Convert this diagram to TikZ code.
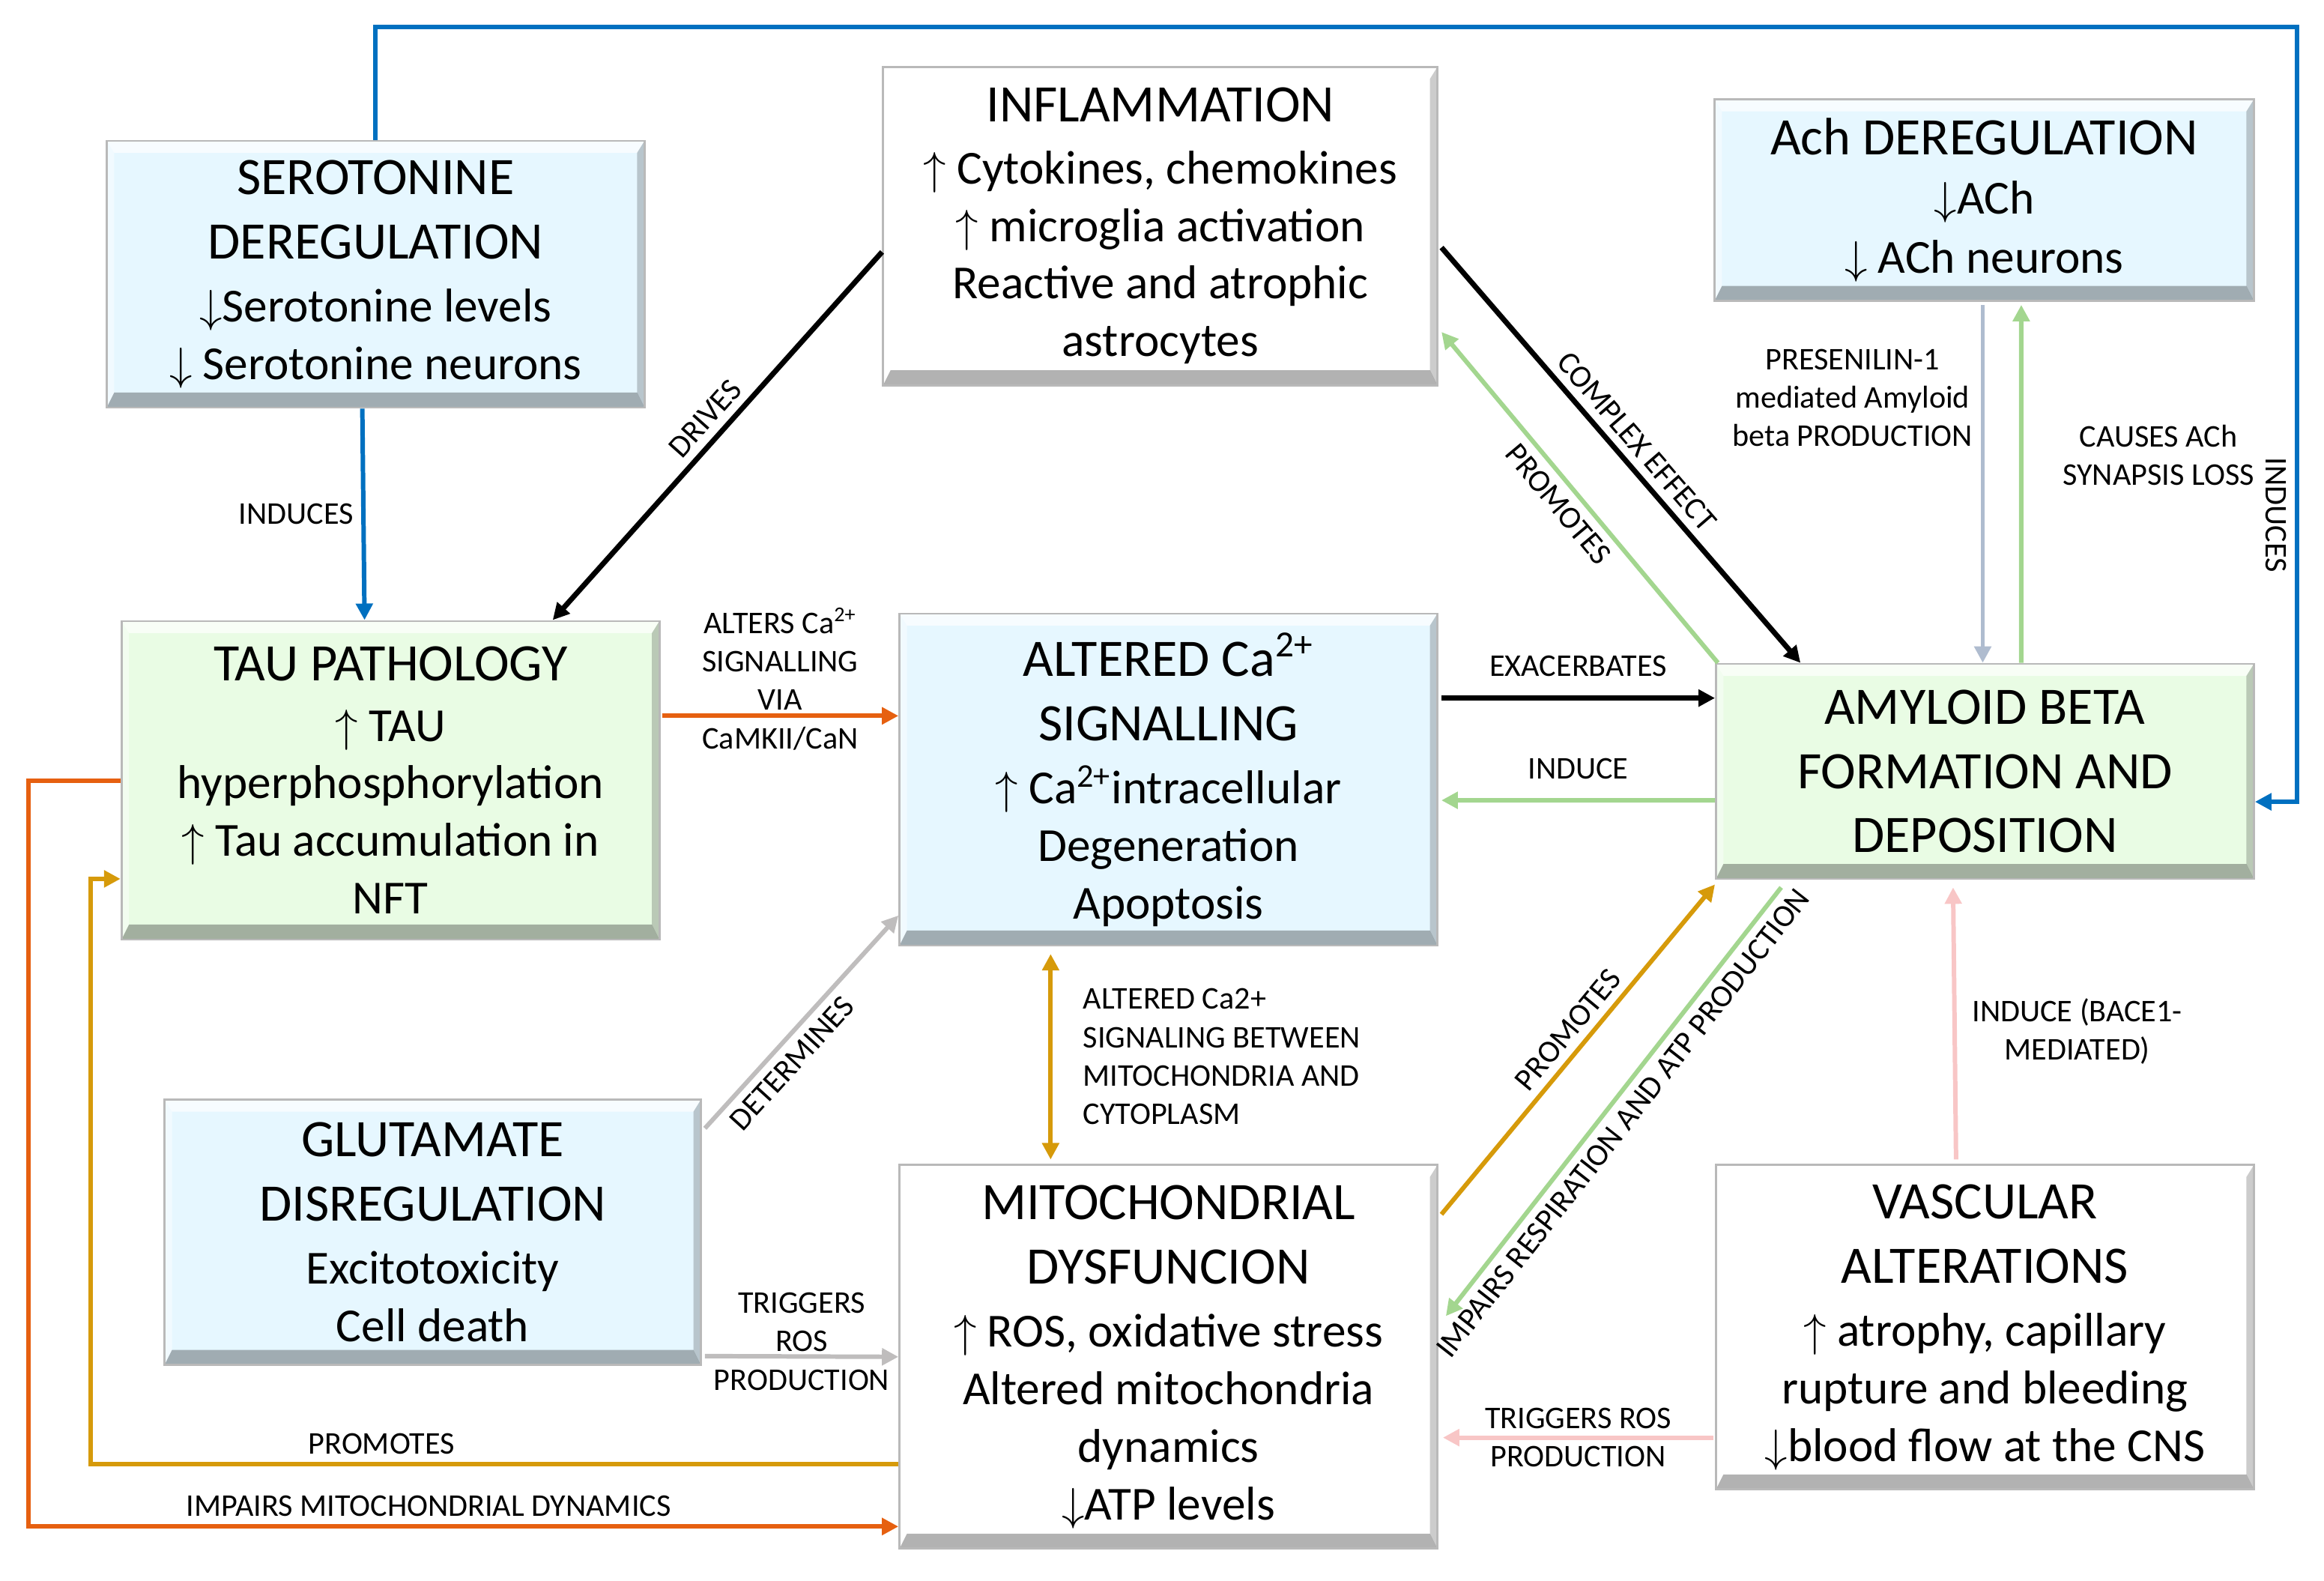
\documentclass[tikz,border=0pt]{standalone}
\usepackage{fontspec}
\setmainfont{Carlito}
\usetikzlibrary{arrows.meta,calc}

\definecolor{boxblue}{HTML}{E6F7FF}
\definecolor{boxgreen}{HTML}{E9FCE4}
\definecolor{lineblue}{HTML}{0070C0}
\definecolor{lineorange}{HTML}{E66010}
\definecolor{linegold}{HTML}{D69A0A}
\definecolor{linegreen}{HTML}{A3D68F}
\definecolor{linegrayblue}{HTML}{AFBCCF}
\definecolor{linegray}{HTML}{BFBDBD}
\definecolor{linepink}{HTML}{F8C6C6}

\newcommand{\ttl}{\fontsize{20}{24.2}\selectfont}
\newcommand{\bdy}{\fontsize{18}{21.9}\selectfont}
\newcommand{\upa}{$\uparrow$}
\newcommand{\dna}{$\downarrow$}

\begin{document}
\begin{tikzpicture}[x=0.1978mm, y=-0.1978mm,
		box_style/.style={draw=gray!55, line width=0.8pt, align=center, inner sep=0pt, font=\bdy, bevel},
		bevel/.style={path picture={
			\fill[white, opacity=.7] (path picture bounding box.north west) -- (path picture bounding box.north east)
				-- ([shift={(-1mm,-1.6mm)}]path picture bounding box.north east) -- ([shift={(1mm,-1.6mm)}]path picture bounding box.north west) -- cycle;
			\fill[white, opacity=.45] (path picture bounding box.north west) -- ([shift={(1mm,-1.6mm)}]path picture bounding box.north west)
				-- ([shift={(1mm,2mm)}]path picture bounding box.south west) -- (path picture bounding box.south west) -- cycle;
			\fill[black, opacity=.3] (path picture bounding box.south west) -- (path picture bounding box.south east)
				-- ([shift={(-1mm,2mm)}]path picture bounding box.south east) -- ([shift={(1mm,2mm)}]path picture bounding box.south west) -- cycle;
			\fill[black, opacity=.2] (path picture bounding box.south east) -- (path picture bounding box.north east)
				-- ([shift={(-1mm,-1.6mm)}]path picture bounding box.north east) -- ([shift={(-1mm,2mm)}]path picture bounding box.south east) -- cycle;}},
		label_style/.style={font=\fontsize{12}{14.6}\selectfont, text=black, inner sep=3pt, align=center},
		edge_style/.style={line width=1.7pt, -{Triangle[length=2.2mm,width=2.2mm]}}]

		\useasboundingbox (0,0) rectangle (1568.3,1066.7);

		\node[box_style, fill=boxblue, minimum width=71.8mm, minimum height=35.6mm] (sero) at (253.5,185)
			{\ttl SEROTONINE\\[2.5pt]\ttl DEREGULATION\\[2pt]\bdy\dna Serotonine levels\\\dna\ Serotonine neurons};
		\node[box_style, fill=white, minimum width=74mm, minimum height=42.5mm] (infl) at (783,152.5)
			{\ttl INFLAMMATION\\[1.5pt]\bdy\upa\ Cytokines, chemokines\\\upa\ microglia activation\\Reactive and atrophic\\astrocytes};
		\node[box_style, fill=boxblue, minimum width=72mm, minimum height=26.9mm] (ach) at (1339,135)
			{\ttl Ach DEREGULATION\\[0.5pt]\bdy\dna ACh\\[0.5pt]\dna\ ACh neurons};
		\node[box_style, fill=boxgreen, minimum width=71.8mm, minimum height=42.5mm] (tau) at (263.5,526.5)
			{\ttl TAU PATHOLOGY\\[1pt]\bdy\upa\ TAU\\hyperphosphorylation\\\upa\ Tau accumulation in\\NFT};
		\node[box_style, fill=boxblue, minimum width=71.8mm, minimum height=44.3mm] (ca) at (788.5,526)
			{\ttl ALTERED Ca\textsuperscript{2+}\\[2.5pt]\ttl SIGNALLING\\[2pt]\bdy\upa\ Ca\textsuperscript{2+}intracellular\\Degeneration\\Apoptosis};
		\node[box_style, fill=boxgreen, minimum width=71.8mm, minimum height=28.7mm] (amy) at (1339.5,520.5)
			{\ttl AMYLOID BETA\\[2.5pt]\ttl FORMATION AND\\[2.5pt]\ttl DEPOSITION};
		\node[box_style, fill=boxblue, minimum width=71.6mm, minimum height=35.4mm] (glu) at (292,831.5)
			{\ttl GLUTAMATE\\[2.5pt]\ttl DISREGULATION\\[2pt]\bdy Excitotoxicity\\Cell death};
		\node[box_style, fill=white, minimum width=71.8mm, minimum height=51.2mm] (mito) at (788.5,915.5)
			{\ttl MITOCHONDRIAL\\[2.5pt]\ttl DYSFUNCION\\[2pt]\bdy\upa\ ROS, oxidative stress\\Altered mitochondria\\dynamics\\\dna ATP levels};
		\node[box_style, fill=white, minimum width=71.8mm, minimum height=43.3mm] (vasc) at (1339.5,895.5)
			{\ttl VASCULAR\\[2.5pt]\ttl ALTERATIONS\\[2pt]\bdy\upa\ atrophy, capillary\\rupture and bleeding\\\dna blood flow at the CNS};

		\coordinate (top_right) at (1550,18);

		% serotonine
		\draw[edge_style, lineblue] ($(sero.south)+(-9,0)$) -- node[label_style, left] {INDUCES} ($(tau.north)+(-17.5,0)$);
		\draw[edge_style, lineblue] (sero.north) |- (top_right) |- node[label_style, pos=.315, rotate=-90, below] {INDUCES} ($(amy.east)+(0,20.5)$);

		% inflammation
		\draw[edge_style, line width=2pt, black] ($(infl.west)+(0,17.5)$) -- node[label_style, sloped, above, pos=.49] {DRIVES} ($(tau.north)+(109.5,0)$);
		\draw[edge_style, line width=2pt, black] ($(infl.east)+(2,14.5)$) -- node[label_style, sloped, above, pos=.5] {COMPLEX EFFECT} ($(amy.north)+(-124.5,0)$);
		\draw[edge_style, linegreen] ($(amy.north west)+(2,0)$) -- node[label_style, sloped, below, pos=.52] {PROMOTES} ($(infl.east)+(2,71.5)$);

		% acetylcholine
		\draw[edge_style, linegrayblue] ($(ach.south)+(-1,2)$) -- node[label_style, left, pos=.26] {PRESENILIN-1\\mediated Amyloid\\beta PRODUCTION} ($(amy.north)+(-1.5,0)$);
		\draw[edge_style, linegreen] ($(amy.north)+(24.5,0)$) -- node[label_style, right=4.2mm, pos=.58] {CAUSES ACh\\SYNAPSIS LOSS} ($(ach.south)+(25,2)$);

		% calcium
		\draw[edge_style, lineorange] ($(tau.east)+(1,-43.5)$) -- node[label_style, midway, yshift=4.9mm] {ALTERS Ca\textsuperscript{2+}\\SIGNALLING\\VIA\\CaMKII/CaN} ($(ca.west)+(0,-43)$);
		\draw[edge_style, line width=2pt, black] ($(ca.east)+(2,-55)$) -- node[label_style, above=1.5mm] {EXACERBATES} ($(amy.west)+(0,-49.5)$);
		\draw[edge_style, linegreen] ($(amy.west)+(0,19.5)$) -- node[label_style, above=1.5mm] {INDUCE} ($(ca.east)+(2,14)$);
		\draw[edge_style, linegold, {Triangle[length=2.2mm,width=2.2mm]}-{Triangle[length=2.2mm,width=2.2mm]}] ($(ca.south)+(-79.5,5)$) -- node[label_style, right=3mm, align=left] {ALTERED Ca2+\\SIGNALING BETWEEN\\MITOCHONDRIA AND\\CYTOPLASM} ($(mito.north)+(-79.5,-3)$);

		% glutamate
		\draw[edge_style, linegray] ($(glu.north east)+(2,20)$) -- node[label_style, sloped, below, pos=.37] {DETERMINES} ($(ca.south west)+(0,-21)$);
		\draw[edge_style, linegray] ($(glu.east)+(2,83.5)$) -- node[label_style, midway, yshift=2mm] {TRIGGERS\\ROS\\PRODUCTION} (mito.west);

		% mitochondria
		\draw[edge_style, linegold] ($(mito.north east)+(2,34)$) -- node[label_style, sloped, above, pos=.52] {PROMOTES} ($(amy.south west)+(0,3)$);
		\draw[edge_style, linegreen] ($(amy.south)+(-137.5,5)$) -- node[label_style, sloped, below, pos=.52] {IMPAIRS RESPIRATION AND ATP PRODUCTION} ($(mito.east)+(5,-27.5)$);
		\draw[edge_style, linegold] ($(mito.west)+(0,72.5)$) -| node[label_style, pos=.32, above] {PROMOTES} ($(tau.west)+(-20,66.5)$) -- ($(tau.west)+(0,66.5)$);
		\draw[edge_style, lineorange] ($(tau.west)+(0,0.5)$) -- ++(-62,0) |- node[label_style, pos=.73, above] {IMPAIRS MITOCHONDRIAL DYNAMICS} ($(mito.west)+(0,114.5)$);

		% vascular
		\draw[edge_style, linepink] ($(vasc.north)+(-19.5,-3)$) -- node[label_style, right=1mm, pos=.47] {INDUCE (BACE1-\\MEDIATED)} ($(amy.south)+(-21.5,5)$);
		\draw[edge_style, linepink] ($(vasc.west)+(-1,74.5)$) -- node[label_style, midway] {TRIGGERS ROS\\PRODUCTION} ($(mito.east)+(3,54.5)$);

	\end{tikzpicture}
\end{document}
